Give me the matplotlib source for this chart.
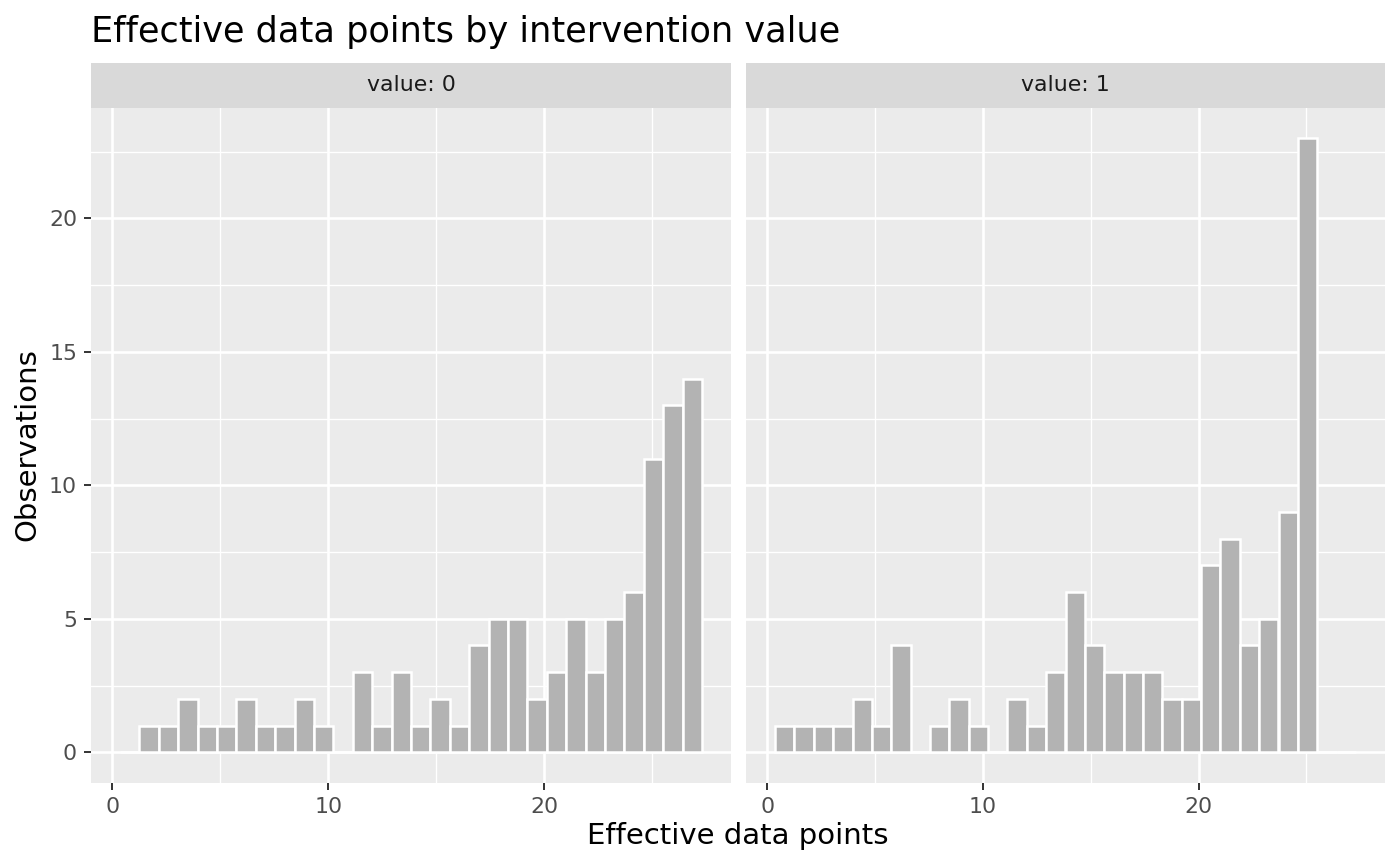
import numpy as np
import matplotlib
matplotlib.use("Agg")
import matplotlib.pyplot as plt

# histogram bins (30 bins shared by both facets)
bin_start = 0.36
bin_width = 0.898
n_bins = 30

# counts per bin
counts_value0 = [0, 1, 1, 2, 1, 1, 2, 1, 1, 2, 1, 0, 3, 1, 3, 1, 2, 1, 4, 5,
                 5, 2, 3, 5, 3, 5, 6, 11, 13, 14]
counts_value1 = [1, 1, 1, 1, 2, 1, 4, 0, 1, 2, 1, 0, 2, 1, 3, 6, 4, 3, 3, 3,
                 2, 2, 7, 8, 4, 5, 9, 23, 0, 0]
facet_labels = ["value: 0", "value: 1"]

x_ticks = [0, 10, 20]
y_ticks = [0, 5, 10, 15, 20]

edges = bin_start + bin_width * np.arange(n_bins + 1)

W, H = 1400, 866
fig = plt.figure(figsize=(W / 100, H / 100), dpi=100)

panel_top = 107.5
panel_bot = 783
strip_top = 63
panels = [(91, 731), (746, 1385)]

lo = edges[0] - 0.05 * (edges[-1] - edges[0])
hi = edges[-1] + 0.05 * (edges[-1] - edges[0])
ymax = max(max(counts_value0), max(counts_value1))

for i, (counts, label) in enumerate(zip([counts_value0, counts_value1], facet_labels)):
    x0, x1 = panels[i]
    ax = fig.add_axes([x0 / W, 1 - panel_bot / H, (x1 - x0) / W, (panel_bot - panel_top) / H])
    ax.set_facecolor("#EBEBEB")
    ax.bar(edges[:-1], counts, width=bin_width, align="edge",
           color="#B3B3B3", edgecolor="white", linewidth=1.8, zorder=3)
    ax.set_xlim(lo, hi)
    ax.set_ylim(-0.05 * ymax, ymax * 1.05)
    ax.set_xticks(x_ticks)
    ax.set_xticks([5, 15, 25], minor=True)
    ax.set_yticks(y_ticks)
    ax.set_yticks([2.5, 7.5, 12.5, 17.5, 22.5], minor=True)
    ax.grid(which="major", color="white", linewidth=1.9, zorder=1)
    ax.grid(which="minor", color="white", linewidth=0.95, zorder=1)
    ax.set_axisbelow(True)
    for s in ax.spines.values():
        s.set_visible(False)
    ax.tick_params(which="major", length=5, width=1.4, color="#333333",
                   labelsize=15.8, labelcolor="#4D4D4D", pad=5)
    ax.tick_params(which="minor", length=0)
    if i == 1:
        ax.tick_params(axis="y", which="both", left=False, labelleft=False)

    sax = fig.add_axes([x0 / W, 1 - panel_top / H, (x1 - x0) / W, (panel_top - strip_top) / H])
    sax.set_facecolor("#D9D9D9")
    sax.set_xticks([])
    sax.set_yticks([])
    for s in sax.spines.values():
        s.set_visible(False)
    sax.text(0.5, 0.5, label, transform=sax.transAxes, ha="center", va="center",
             fontsize=15.8, color="#1A1A1A")

fig.text(91 / W, 1 - 42 / H, "Effective data points by intervention value",
         fontsize=25.3, color="black", ha="left", va="baseline")
fig.text(738 / W, 1 - 836 / H, "Effective data points", fontsize=21,
         ha="center", va="center")
fig.text(27 / W, 1 - 445 / H, "Observations", fontsize=21, rotation=90,
         ha="center", va="center")

plt.savefig("out.png", dpi=100)
